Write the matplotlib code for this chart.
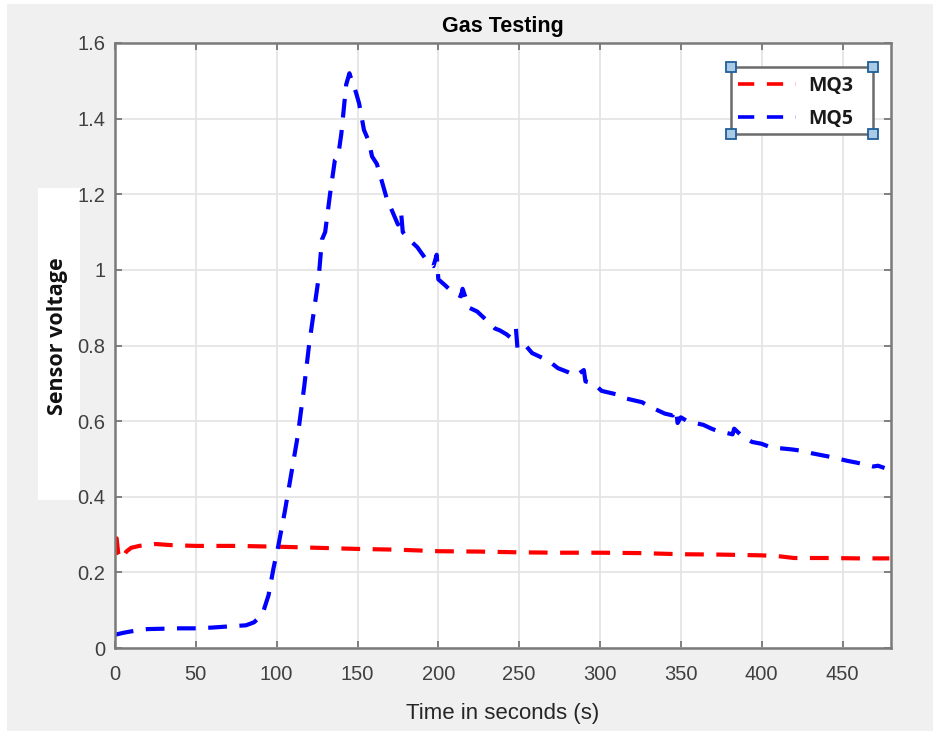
import matplotlib
matplotlib.use("Agg")
import matplotlib.pyplot as plt
from matplotlib.patches import Rectangle
from matplotlib.lines import Line2D

# MQ5 sensor (blue)
t_mq5 = [0, 5, 10, 15, 20, 30, 40, 50, 60, 70,
         81, 86, 89, 92, 95, 98, 101, 105, 109, 113,
         117, 120, 123, 126, 128, 130, 133, 136, 138, 140,
         143, 145, 146.5, 149, 151, 154, 157, 159, 162, 164,
         168, 172, 175, 177, 178, 182, 187, 192, 197, 199,
         200, 204, 209, 214, 215, 219, 224, 229, 235, 238,
         242, 245, 248, 249, 254, 258, 263, 268, 274, 280,
         285, 290, 291, 296, 301, 306, 311, 316, 321, 326,
         330, 335, 340, 345, 347, 348, 350, 354, 359, 364,
         369, 372, 377, 382, 383, 388, 394, 400, 406, 412,
         419, 424, 431, 437, 443, 448, 453, 459, 464, 469,
         472, 476]
v_mq5 = [0.035, 0.040, 0.044, 0.047, 0.050, 0.051, 0.052, 0.052, 0.054, 0.057,
         0.060, 0.068, 0.080, 0.100, 0.140, 0.210, 0.270, 0.360, 0.460, 0.560,
         0.690, 0.800, 0.890, 0.980, 1.080, 1.100, 1.200, 1.290, 1.300, 1.360,
         1.490, 1.520, 1.500, 1.470, 1.440, 1.370, 1.340, 1.300, 1.280, 1.250,
         1.190, 1.150, 1.120, 1.150, 1.100, 1.080, 1.060, 1.030, 1.010, 1.040,
         0.975, 0.960, 0.940, 0.930, 0.950, 0.900, 0.890, 0.870, 0.845, 0.840,
         0.830, 0.820, 0.845, 0.790, 0.800, 0.780, 0.770, 0.760, 0.740, 0.730,
         0.720, 0.735, 0.705, 0.700, 0.680, 0.675, 0.670, 0.660, 0.655, 0.650,
         0.640, 0.630, 0.620, 0.615, 0.630, 0.595, 0.610, 0.600, 0.595, 0.590,
         0.580, 0.575, 0.570, 0.565, 0.580, 0.560, 0.545, 0.540, 0.530, 0.528,
         0.525, 0.522, 0.515, 0.510, 0.505, 0.500, 0.495, 0.490, 0.485, 0.480,
         0.482, 0.476]

# MQ3 sensor (red)
t_mq3 = [0, 1, 2, 4, 7, 10, 15, 25, 35, 50,
         75, 100, 125, 150, 175, 200, 225, 250, 275, 300,
         325, 350, 375, 400, 410, 420, 440, 460, 479]
v_mq3 = [0.285, 0.290, 0.250, 0.235, 0.255, 0.265, 0.270, 0.275, 0.272, 0.270,
         0.270, 0.268, 0.265, 0.262, 0.260, 0.256, 0.255, 0.253, 0.252, 0.252,
         0.251, 0.248, 0.247, 0.245, 0.243, 0.238, 0.238, 0.237, 0.237]

x_ticks = [0, 50, 100, 150, 200, 250, 300, 350, 400, 450]
y_ticks = [0, 0.2, 0.4, 0.6, 0.8, 1.0, 1.2, 1.4, 1.6]
y_ticklabels = ["0", "0.2", "0.4", "0.6", "0.8", "1", "1.2", "1.4", "1.6"]

W, H = 933, 731


def fx(x):
    return x / W


def fy(y):
    return 1 - y / H


fig = plt.figure(figsize=(W / 100, H / 100), dpi=100, facecolor="white")
# matlab-ish gray figure panel with a thin white margin
fig.patches.append(Rectangle((fx(7), 0), 1 - fx(7), fy(4), transform=fig.transFigure,
                             facecolor="#f0f0f0", edgecolor="none", zorder=-2))
# white box behind the y label
fig.patches.append(Rectangle((fx(38), fy(500)), fx(80) - fx(38), fy(188) - fy(500),
                             transform=fig.transFigure, facecolor="white",
                             edgecolor="none", zorder=-1))

ax = fig.add_axes([fx(115), fy(648), fx(891) - fx(115), fy(43) - fy(648)])
ax.set_zorder(1)
ax.set_facecolor("white")

dash = (0, (4.5, 3))
ax.plot(t_mq3, v_mq3, color="#ff0000", lw=3.0, linestyle=dash, label="MQ3")
ax.plot(t_mq5, v_mq5, color="#0000ff", lw=3.0, linestyle=dash, label="MQ5")

ax.set_xlim(0, 480)
ax.set_ylim(0, 1.6)
ax.set_xticks(x_ticks)
ax.set_yticks(y_ticks)
ax.set_yticklabels(y_ticklabels)
ax.grid(True, color="#e3e3e3", lw=1.2)
ax.set_axisbelow(True)
ax.tick_params(direction="in", length=5, width=1.2, color="#6e6e6e",
               labelcolor="#404040", labelsize=14.5, top=True, right=True)
ax.tick_params(axis="x", pad=12)
ax.tick_params(axis="y", pad=7)
for lab in ax.get_xticklabels() + ax.get_yticklabels():
    lab.set_family("Liberation Sans")
for s in ax.spines.values():
    s.set_color("#7a7a7a")
    s.set_linewidth(1.8)

ax.set_xlabel("Time in seconds (s)", fontsize=16, family="Liberation Sans",
              color="#262626", labelpad=14)
ax.set_title("Gas Testing", fontsize=15.5, fontweight="bold",
             family="Liberation Sans", color="black", pad=8)

fig.text(fx(57), fy(336), "Sensor voltage", rotation=90, ha="center", va="center",
         fontsize=15.5, fontweight="bold", family="Open Sans", color="#111111", zorder=3)

# legend (frame drawn separately to mimic the selected-legend look)
fig.patches.append(Rectangle((fx(731), fy(134)), fx(873) - fx(731), fy(67) - fy(134),
                             transform=fig.transFigure, facecolor="white",
                             edgecolor="#6b6b6b", lw=1.8, zorder=3))
handles = [Line2D([], [], color="#ff0000", lw=2.6, linestyle=(0, (4.5, 3.5))),
           Line2D([], [], color="#0000ff", lw=2.6, linestyle=(0, (4.5, 3.5)))]
leg = fig.legend(handles, ["MQ3", "MQ5"], loc="upper left",
                 bbox_to_anchor=(fx(736), fy(74)), frameon=False,
                 prop={"family": "Open Sans", "weight": "bold", "size": 14},
                 handlelength=3.0, handletextpad=0.6, labelspacing=0.66,
                 borderpad=0.1, borderaxespad=0)
leg.set_zorder(5)
for txt in leg.get_texts():
    txt.set_color("#1a1a1a")

for cx, cy in [(731, 67), (873, 67), (731, 134), (873, 134)]:
    fig.patches.append(Rectangle((fx(cx - 5), fy(cy + 5)), fx(10), 10 / H,
                                 transform=fig.transFigure, facecolor="#a9cbe6",
                                 edgecolor="#1f5f9a", lw=1.3, zorder=6))

fig.savefig("out.png", dpi=100, facecolor=fig.get_facecolor())
